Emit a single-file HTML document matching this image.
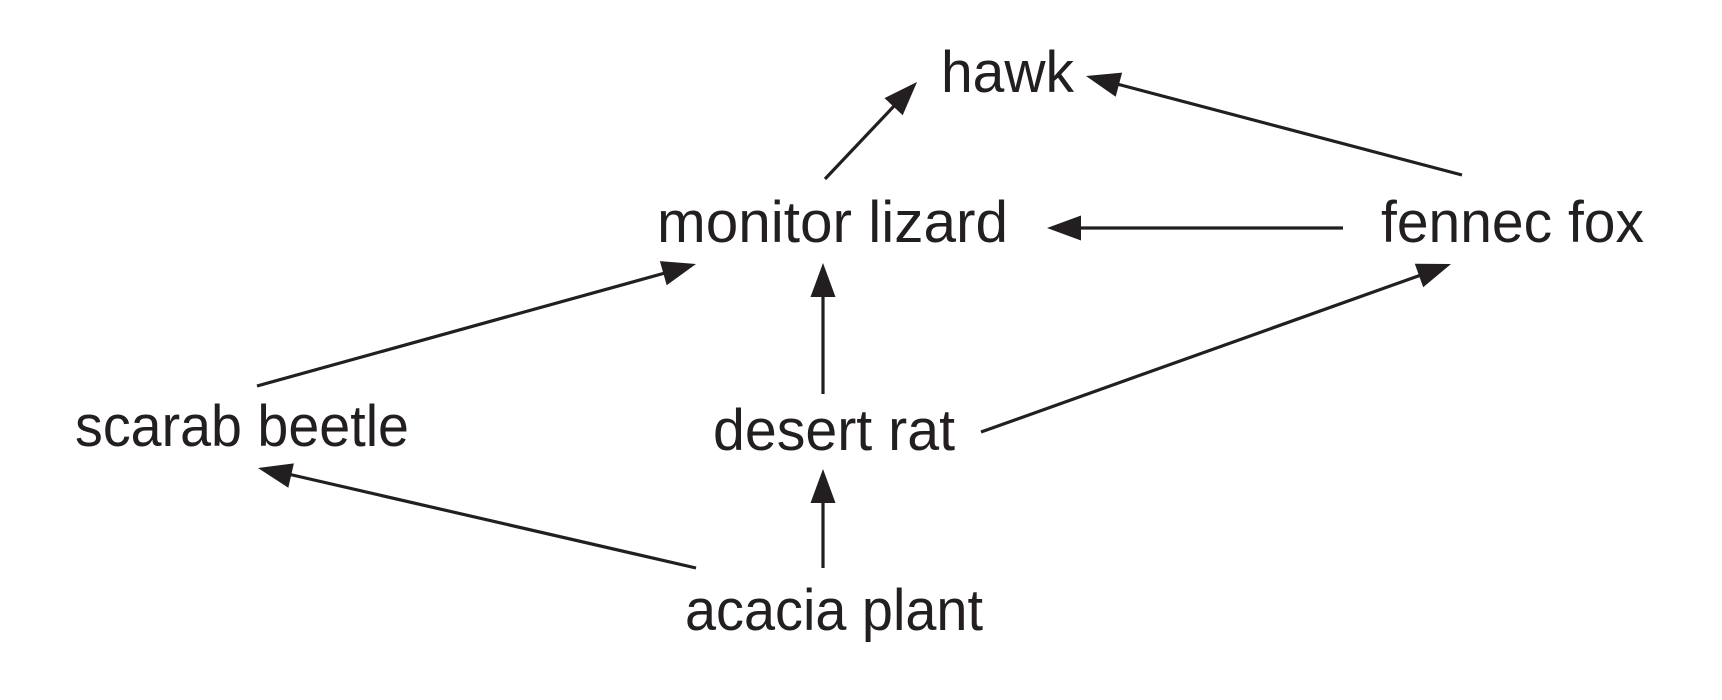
<!DOCTYPE html>
<html>
<head>
<meta charset="utf-8">
<style>
  html,body{margin:0;padding:0;background:#fff;}
  svg{display:block;}
  text{font-family:"Liberation Sans",sans-serif;font-size:58px;fill:#231f20;}
</style>
</head>
<body>
<svg width="1722" height="700" viewBox="0 0 1722 700" xmlns="http://www.w3.org/2000/svg">
  <rect width="1722" height="700" fill="#fff"/>
  <!-- labels -->
  <text x="941" y="92" textLength="133" lengthAdjust="spacingAndGlyphs">hawk</text>
  <text x="657" y="242" textLength="351" lengthAdjust="spacingAndGlyphs">monitor lizard</text>
  <text x="1381" y="242" textLength="263" lengthAdjust="spacingAndGlyphs">fennec fox</text>
  <text x="75" y="446" textLength="334" lengthAdjust="spacingAndGlyphs">scarab beetle</text>
  <text x="713" y="450" textLength="242" lengthAdjust="spacingAndGlyphs">desert rat</text>
  <text x="685" y="630" textLength="298" lengthAdjust="spacingAndGlyphs">acacia plant</text>

  <g stroke="#231f20" stroke-width="3.2" fill="none">
    <line x1="825" y1="179" x2="895" y2="105"/>
    <line x1="1462" y1="175" x2="1117" y2="84"/>
    <line x1="1343" y1="228" x2="1079" y2="228"/>
    <line x1="257" y1="386" x2="665" y2="273"/>
    <line x1="823" y1="394" x2="823" y2="295"/>
    <line x1="981" y1="432" x2="1421" y2="275"/>
    <line x1="696" y1="568" x2="288" y2="474"/>
    <line x1="823" y1="568" x2="823" y2="501"/>
  </g>
  <g fill="#231f20">
    <polygon points="917,82 884.5,98.1 902.7,115.3"/>
    <polygon points="1086,76 1122.1,72.6 1115.7,96.8"/>
    <polygon points="1047,228 1081,215.5 1081,240.5"/>
    <polygon points="696,264 659.9,261.1 666.7,285.2"/>
    <polygon points="823,263 810.5,297 835.5,297"/>
    <polygon points="1451,264 1414.8,263.7 1423.2,287.2"/>
    <polygon points="258,468 293.9,463.4 288.3,487.8"/>
    <polygon points="823,469 810.5,503 835.5,503"/>
  </g>
</svg>
</body>
</html>
